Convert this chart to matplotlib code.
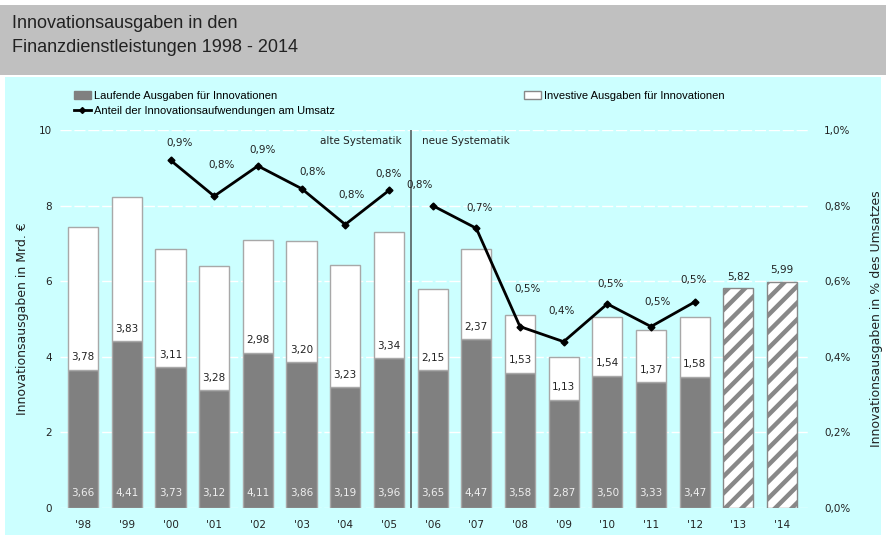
import numpy as np
import matplotlib
matplotlib.use("Agg")
import matplotlib.pyplot as plt
from matplotlib.patches import Rectangle, Patch
from matplotlib.lines import Line2D

plt.rcParams['font.family'] = ['DejaVu Sans']
plt.rcParams['hatch.linewidth'] = 3.2

# ----- data -----
years = ["'98", "'99", "'00", "'01", "'02", "'03", "'04", "'05", "'06",
         "'07", "'08", "'09", "'10", "'11", "'12", "'13", "'14"]
laufende = [3.66, 4.41, 3.73, 3.12, 4.11, 3.86, 3.19, 3.96, 3.65,
            4.47, 3.58, 2.87, 3.50, 3.33, 3.47]
investive = [3.78, 3.83, 3.11, 3.28, 2.98, 3.20, 3.23, 3.34, 2.15,
             2.37, 1.53, 1.13, 1.54, 1.37, 1.58]
total_only = [5.82, 5.99]          # '13, '14 (only totals)
anteil_alt = [0.92, 0.825, 0.905, 0.845, 0.75, 0.84]          # '00 - '05
anteil_neu = [0.80, 0.74, 0.48, 0.44, 0.54, 0.48, 0.545]      # '06 - '12

# label offsets for percent labels (pixels)
pct_offsets = [(9, 12), (7, 26), (5, 11), (11, 12), (6, 25), (0, 11),
               (-13, 16), (3, 15), (8, 33), (-2, 26), (3, 15), (7, 20), (-1, 17)]

narrow = ['Liberation Sans', 'DejaVu Sans']

def de(v, fmt="{:.2f}"):
    return fmt.format(v).replace(".", ",")

W, H = 886, 540
fig = plt.figure(figsize=(W / 100, H / 100), dpi=100)
fig.patch.set_facecolor("white")

# background bands
fig.patches.append(Rectangle((0.0, 1 - 75 / H), 1.0, 70 / H, transform=fig.transFigure,
                             facecolor="#c0c0c0", edgecolor="none", zorder=-10))
fig.patches.append(Rectangle((5 / W, 5 / H), 1 - 10 / W, 1 - 82 / H, transform=fig.transFigure,
                             facecolor="#ccffff", edgecolor="none", zorder=-10))
fig.text(12 / W, 1 - 23 / H, "Innovationsausgaben in den", fontsize=13,
         va="center", color="#222222", family=narrow)
fig.text(12 / W, 1 - 48 / H, "Finanzdienstleistungen 1998 - 2014", fontsize=13,
         va="center", color="#222222", family=narrow)

ax = fig.add_axes([60 / W, 32 / H, 750 / W, 378 / H])
ax.set_facecolor("none")

x = np.arange(len(years))
n = len(laufende)
bw = 0.69
grey = "#808080"
edge = "#a8a8a8"

ax.bar(x[:n], laufende, width=bw, color=grey, edgecolor=edge, linewidth=1, zorder=3)
ax.bar(x[:n], investive, bottom=laufende, width=bw, color="white",
       edgecolor=edge, linewidth=1, zorder=3)
ax.bar(x[n:], total_only, width=bw, color="white", edgecolor="#888888",
       hatch="//", linewidth=1, zorder=3)

for xi, lv, iv in zip(x[:n], laufende, investive):
    ax.text(xi, 0.4, de(lv), ha="center", va="center", fontsize=7.5,
            color="#eeeeee", zorder=5)
    ax.text(xi, lv + 0.33, de(iv), ha="center", va="center", fontsize=7.5,
            color="#222222", zorder=5)
for xi, tv in zip(x[n:], total_only):
    ax.text(xi, tv + 0.3, de(tv), ha="center", va="center", fontsize=7.5,
            color="#222222", zorder=5)

ax.set_xlim(-0.53, 16.64)
ax.set_ylim(0, 10)
ax.set_yticks([0, 2, 4, 6, 8, 10])
ax.set_xticks(x)
ax.set_xticklabels(years)
ax.tick_params(axis="both", length=0, labelsize=7.5, colors="#222222")
ax.tick_params(axis="x", pad=9)
ax.tick_params(axis="y", pad=6)
ax.grid(axis="y", color="white", linestyle=(0, (8, 2)), linewidth=1, zorder=0)
for s in ax.spines.values():
    s.set_visible(False)
ax.set_ylabel("Innovationsausgaben in Mrd. €", fontsize=9, color="#222222", labelpad=7)

# separator old / new systematics
ax.plot([7.5, 7.5], [0, 10], color="#556060", linewidth=1.2, zorder=4)
ax.text(7.3, 9.7, "alte Systematik", ha="right", va="center", fontsize=7.5, color="#222222")
ax.text(7.75, 9.7, "neue Systematik", ha="left", va="center", fontsize=7.5, color="#222222")

# secondary axis with share of turnover
ax2 = ax.twinx()
ax2.set_ylim(0, 1.0)
ax2.set_yticks([0, 0.2, 0.4, 0.6, 0.8, 1.0])
ax2.set_yticklabels([de(v, "{:.1f}") + "%" for v in [0, 0.2, 0.4, 0.6, 0.8, 1.0]])
ax2.tick_params(axis="y", length=0, labelsize=7.5, colors="#222222", pad=10)
for s in ax2.spines.values():
    s.set_visible(False)
ax2.set_ylabel("Innovationsausgaben in % des Umsatzes", fontsize=9, color="#222222",
               labelpad=14)

x_alt = x[2:8]
x_neu = x[8:15]
line_kw = dict(color="black", linewidth=2, marker="D", markersize=3.5, zorder=6)
ax2.plot(x_alt, anteil_alt, **line_kw)
ax2.plot(x_neu, anteil_neu, **line_kw)
for xi, v, off in zip(list(x_alt) + list(x_neu), anteil_alt + anteil_neu, pct_offsets):
    ax2.annotate(de(v, "{:.1f}") + "%", (xi, v), xytext=off, textcoords="offset pixels",
                 ha="center", va="bottom", fontsize=7.5, color="#222222", zorder=7)

# legend
h_lauf = Patch(facecolor=grey, edgecolor=grey)
h_inv = Patch(facecolor="white", edgecolor="#888888")
h_line = Line2D([], [], color="black", linewidth=2, marker="D", markersize=3)
leg_kw = dict(frameon=False, handlelength=1.6, handleheight=0.7,
              handletextpad=0.2, labelspacing=0.45, borderpad=0,
              prop={'family': narrow, 'size': 8})
fig.legend([h_lauf, h_line], ["Laufende Ausgaben für Innovationen",
                              "Anteil der Innovationsaufwendungen am Umsatz"],
           loc="upper left", bbox_to_anchor=(68 / W, 1 - 85 / H), **leg_kw)
fig.legend([h_inv], ["Investive Ausgaben für Innovationen"],
           loc="upper left", bbox_to_anchor=(518 / W, 1 - 85 / H), **leg_kw)

fig.savefig("out.png", dpi=100)
